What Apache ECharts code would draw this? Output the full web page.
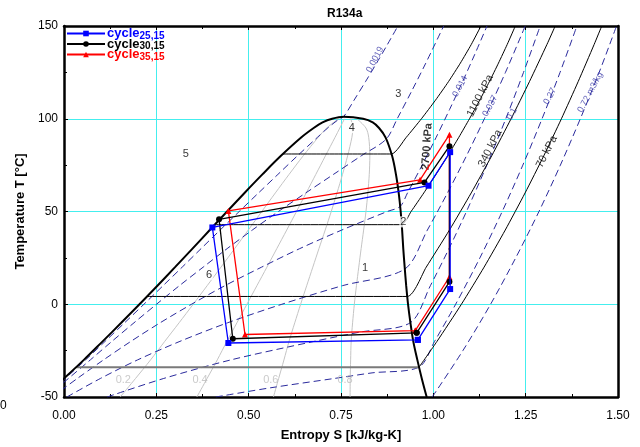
<!DOCTYPE html>
<html><head><meta charset="utf-8">
<script src="https://cdn.jsdelivr.net/npm/echarts@6/dist/echarts.min.js"></script>
<style>html,body{margin:0;padding:0;background:#fff}#c{width:640px;height:447px}</style>
</head><body><div id="c"></div>
<script>
// ---------- data (entropy s [kJ/kg-K], temperature T [°C]) ----------
const satT  = [-50,-40,-30,-20,-10,0,10,20,30,40,50,60,70,80,90,95,98,100,101.06];
const satSf = [-0.0552,0,0.0538,0.1046,0.1550,0.2044,0.2529,0.3007,0.3479,0.3947,0.4415,0.4887,0.5371,0.5874,0.6429,0.676,0.700,0.726,0.757];
const satSg = [0.982,0.9687,0.9567,0.9457,0.9380,0.9315,0.9265,0.9224,0.9186,0.9155,0.9116,0.9062,0.8988,0.8883,0.8705,0.853,0.836,0.810,0.757];

const isobar2700 = [[0.593,81],[0.8865,81],[0.9268,90],[0.9678,100],[1.0058,110],[1.041,120],[1.0732,130],[1.1026,140],[1.129,150]];
const isobar1100 = [[0.4083,42.9],[0.9144,42.9],[0.9398,50],[0.9742,60],[1.0071,70],[1.0388,80],[1.069,90],[1.0979,100],[1.1255,110],[1.1517,120],[1.1764,130],[1.1999,140],[1.222,150]];
const isobar340  = [[0.2248,4.2],[0.9294,4.2],[0.9807,20],[1.0436,40],[1.1025,60],[1.158,80],[1.2105,100],[1.2602,120],[1.3075,140],[1.330,150]];
const isobar70Dome = [[0.0328,-33.9],[0.9614,-33.9]];
const isobar70   = [[0.9614,-33.9],[1.010,-20],[1.076,0],[1.1374,20],[1.1947,40],[1.2484,60],[1.299,80],[1.3468,100],[1.3921,120],[1.4353,140],[1.456,150]];

const isochor0019 = [[-0.0531,-50],[0.0033,-40],[0.0585,-30],[0.1113,-20],[0.1641,-10],[0.2164,0],[0.2682,10],[0.32,20],[0.3712,30],[0.4227,40],[0.4744,50],[0.5266,60],[0.5792,70],[0.632,80],[0.6863,90],[0.714,95],[0.746,100],[0.757,101.06],[0.7853,110],[0.8163,120],[0.8464,130],[0.8756,140],[0.9041,150]];
const isochor0051 = [[-0.0476,-50],[0.012,-40],[0.0713,-30],[0.1298,-20],[0.1895,-10],[0.2504,0],[0.3124,10],[0.3768,20],[0.4418,30],[0.5098,40],[0.5804,50],[0.6545,60],[0.7296,70],[0.8047,80],[0.8723,89],[0.9022,100],[0.9416,115],[0.9796,130],[1.028,150]];
const isochor014  = [[-0.0322,-50],[0.0361,-40],[0.107,-30],[0.1812,-20],[0.2602,-10],[0.3452,0],[0.4355,10],[0.535,20],[0.6383,30],[0.7521,40],[0.8752,50],[0.9101,52.7],[0.930,60],[0.9697,75],[1.0077,90],[1.044,105],[1.0791,120],[1.1128,135],[1.1453,150]];
const isochor037  = [[0.0077,-50],[0.0987,-40],[0.1992,-30],[0.314,-20],[0.4428,-10],[0.5899,0],[0.7537,10],[0.9228,19],[0.9839,40],[1.0383,60],[1.0897,80],[1.1382,100],[1.1953,125],[1.2488,150]];
const isochor01   = [[0.1167,-50],[0.2701,-40],[0.4517,-30],[0.6778,-20],[0.8016,-15],[0.938,-9.9],[0.992,10],[1.0424,30],[1.0897,50],[1.1448,75],[1.1962,100],[1.2442,125],[1.2893,150]];
const isochor027  = [[0.411,-50],[0.5605,-45],[0.732,-40],[0.834,-37],[0.961,-33.9],[1.0034,-20],[1.0604,0],[1.1261,25],[1.1865,50],[1.2423,75],[1.2944,100],[1.3431,125],[1.3887,150]];
const isochor072  = [[0.997,-50],[1.080,-25],[1.155,0],[1.223,25],[1.286,50],[1.344,75],[1.398,100],[1.449,125],[1.496,150]];

const quality02 = [[0.1522,-50],[0.1937,-40],[0.2344,-30],[0.2728,-20],[0.3116,-10],[0.3498,0],[0.3876,10],[0.425,20],[0.462,30],[0.4989,40],[0.5355,50],[0.5722,60],[0.6094,70],[0.6476,80],[0.6884,90],[0.7114,95],[0.7428,100]];
const quality04 = [[0.3597,-50],[0.3875,-40],[0.415,-30],[0.441,-20],[0.4682,-10],[0.4952,0],[0.5223,10],[0.5494,20],[0.5762,30],[0.603,40],[0.6295,50],[0.6557,60],[0.6818,70],[0.7078,80],[0.7339,90],[0.7468,95],[0.7596,100]];
const quality06 = [[0.5671,-50],[0.5812,-40],[0.5955,-30],[0.6093,-20],[0.6248,-10],[0.6407,0],[0.6571,10],[0.6737,20],[0.6903,30],[0.7072,40],[0.7236,50],[0.7392,60],[0.7541,70],[0.7679,80],[0.7795,90],[0.7822,95],[0.7764,100]];
const quality08 = [[0.7746,-50],[0.775,-40],[0.7761,-30],[0.7775,-20],[0.7814,-10],[0.7861,0],[0.7918,10],[0.7981,20],[0.8045,30],[0.8113,40],[0.8176,50],[0.8227,60],[0.8265,70],[0.8281,80],[0.825,90],[0.8176,95],[0.7932,100]];

const cycle25 = [[0.958,-19.2],[1.0455,8.2],[1.0455,82.0],[0.987,63.9],[0.4017,41.4],[0.445,-20.9],[0.958,-19.2]];
const cycle30 = [[0.955,-15.4],[1.0436,12.1],[1.0436,85.2],[0.976,65.7],[0.4198,45.8],[0.457,-18.6],[0.955,-15.4]];
const cycle35 = [[0.951,-14.2],[1.0436,14.7],[1.0436,91.4],[0.964,67.1],[0.445,50.3],[0.490,-16.3],[0.951,-14.2]];
const cycleNames = ['25,15','30,15','35,15'];

const regionLabels   = [[0.8153,19.5,'1'],[0.919,44.4,'2'],[0.9055,113.3,'3'],[0.779,95.2,'4'],[0.330,80.8,'5'],[0.393,16.0,'6']];
const isobarLabels   = [[0.983,85.0,'2700 kPa',86,'bold'],[1.127,112.4,'1100 kPa',63,'normal'],[1.154,84.0,'340 kPa',63,'normal'],[1.307,82.2,'70 kPa',63,'normal']];
const isochorLabels  = [[0.842,131.9,'0.0019'],[1.0726,117.5,'0.014'],[1.154,106.9,'0.037'],[1.213,102.6,'0.1'],[1.316,112.2,'0.27'],[1.425,114.3,'0.72 m3/kg']];
const qualityLabels  = [[0.1606,-40.8,'0.2'],[0.3684,-40.8,'0.4'],[0.5599,-40.8,'0.6'],[0.761,-40.8,'0.8']];

// ---------- chart ----------
const FONT = 'Liberation Sans, Arial, Helvetica, sans-serif';
const dome = satSf.map((s,i)=>[s,satT[i]]).concat(satSg.map((s,i)=>[s,satT[i]]).reverse());
const chart = echarts.init(document.getElementById('c'));

function line(data, color, width, type, extra){
  return Object.assign({type:'line', data, symbol:'none', smooth:0.3, silent:true,
    lineStyle:{color, width, type}, z:2, animation:false}, extra||{});
}
const isoDash = [7,4];
const blueDash = '#2a2a9c';

function textSeries(arr, fn, z){
  return {type:'scatter', data:arr.map(a=>({value:[a[0],a[1]], label:fn(a)})), symbolSize:0, silent:true, z:z||5, animation:false,
    label:{show:true, position:'inside'}};
}

const cycleStyle = [
  {color:'#0000ff', symbol:'rect', z:8},
  {color:'#000000', symbol:'circle', z:7},
  {color:'#ff0000', symbol:'triangle', z:6}
];
const cycleData = [cycle25, cycle30, cycle35];

const series = [
  line(quality02,'#c4c4c4',1,'solid'),
  line(quality04,'#c4c4c4',1,'solid'),
  line(quality06,'#c4c4c4',1,'solid'),
  line(quality08,'#c4c4c4',1,'solid'),
  line(isochor0019,blueDash,1,isoDash),
  line(isochor0051,blueDash,1,isoDash),
  line(isochor014,blueDash,1,isoDash),
  line(isochor037,blueDash,1,isoDash),
  line(isochor01,blueDash,1,isoDash),
  line(isochor027,blueDash,1,isoDash),
  line(isochor072,blueDash,1,isoDash),
  line(isobar2700,'#000',1,'solid',{smooth:0.2}),
  line(isobar1100,'#000',1,'solid',{smooth:0.2}),
  line(isobar340,'#000',1,'solid',{smooth:0.2}),
  line(isobar70Dome,'#7a7a7a',2,'solid',{smooth:false}),
  line(isobar70,'#000',1,'solid',{smooth:0.2}),
  line(dome,'#000',2,'solid',{smooth:0.35, z:3}),
];
cycleData.forEach((d,i)=>{
  series.push({type:'line', name:cycleNames[i], data:d, smooth:false, symbol:cycleStyle[i].symbol, symbolSize:6,
    itemStyle:{color:cycleStyle[i].color}, lineStyle:{color:cycleStyle[i].color, width:1.3}, z:cycleStyle[i].z, animation:false});
});
series.push(textSeries(regionLabels, a=>({formatter:a[2], fontSize:11, color:'#000', fontFamily:FONT, backgroundColor:'#fff', padding:[0,1]}),4));
series.push(textSeries(isobarLabels, a=>({formatter:a[2], fontSize:11, color:'#000', fontFamily:FONT, fontWeight:a[4], rotate:a[3]}),4));
series.push(textSeries(isochorLabels, a=>({formatter:a[2], fontSize:9, color:'#3a3aa8', fontFamily:FONT, rotate:62}),4));
series.push(textSeries(qualityLabels, a=>({formatter:a[2], fontSize:11, color:'#bdbdbd', fontFamily:FONT}),4));

const legendText = {fontFamily:FONT, rich:{
  a:{fontSize:13, fontWeight:'bold', fontFamily:FONT, lineHeight:13, verticalAlign:'top'},
  b:{fontSize:10, fontWeight:'bold', fontFamily:FONT, lineHeight:10, padding:[5,0,0,0]}
}};
const legends = cycleNames.map((n,i)=>({
  data:[n], left:66, top:26 + i*10.5, itemWidth:38, itemHeight:7, itemGap:0, padding:0,
  formatter: name=>'{a|cycle}{b|'+name+'}',
  textStyle:Object.assign({color:cycleStyle[i].color, padding:[0,0,0,-3]}, legendText)
}));

const gridLine = {show:true, lineStyle:{color:'#44eeee', width:1}};
chart.setOption({
  animation:false,
  backgroundColor:'#fff',
  title:{text:'R134a', left:322, top:3, textStyle:{fontSize:12, fontWeight:'bold', fontFamily:FONT, color:'#000'}},
  legend:legends,
  grid:{left:64, right:22, top:26, bottom:45.5},
  xAxis:[
    {type:'value', min:0, max:1.5, interval:0.25, name:'Entropy S [kJ/kg-K]', nameLocation:'middle', nameGap:32,
     nameTextStyle:{fontSize:13, fontWeight:'bold', fontFamily:FONT, color:'#000'},
     axisLine:{onZero:false, lineStyle:{color:'#000', width:2.5}},
     axisTick:{inside:true, length:4, lineStyle:{color:'#000'}}, minorTick:{show:true, splitNumber:2, length:3, lineStyle:{color:'#000'}},
     axisLabel:{formatter:v=>v.toFixed(2), fontSize:12, color:'#000', fontFamily:FONT, margin:13},
     splitLine:gridLine},
    {type:'value', position:'top', min:0, max:1.5, interval:0.25,
     axisLine:{onZero:false, lineStyle:{color:'#000', width:2.5}},
     axisTick:{inside:true, length:4, lineStyle:{color:'#000'}}, minorTick:{show:true, splitNumber:2, length:3, lineStyle:{color:'#000'}},
     axisLabel:{show:false}, splitLine:{show:false}}
  ],
  yAxis:[
    {type:'value', min:-50, max:150, interval:50, name:'Temperature T [°C]', nameLocation:'middle', nameGap:36,
     nameTextStyle:{fontSize:13, fontWeight:'bold', fontFamily:FONT, color:'#000'},
     axisLine:{onZero:false, lineStyle:{color:'#000', width:2.5}},
     axisTick:{inside:true, length:4, lineStyle:{color:'#000'}}, minorTick:{show:true, splitNumber:2, length:3, lineStyle:{color:'#000'}},
     axisLabel:{fontSize:12, color:'#000', fontFamily:FONT, margin:6},
     splitLine:gridLine},
    {type:'value', position:'right', min:-50, max:150, interval:50,
     axisLine:{onZero:false, lineStyle:{color:'#000', width:2.5}},
     axisTick:{show:false}, axisLabel:{show:false}, splitLine:{show:false}}
  ],
  graphic:[{type:'text', left:0, top:400, style:{text:'0', fontSize:12, fontFamily:FONT, fill:'#000'}}],
  series
});
</script></body></html>
